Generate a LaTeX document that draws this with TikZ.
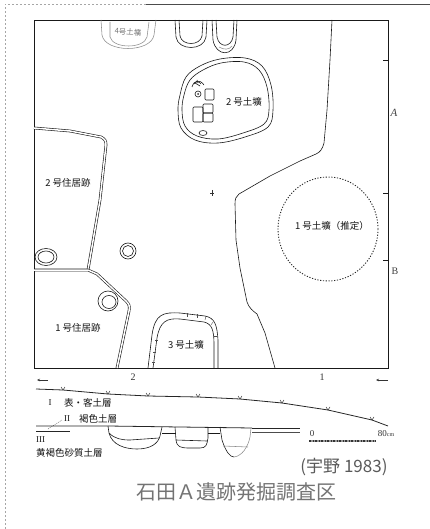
\documentclass[tikz,border=0pt]{standalone}
\usepackage{fontspec}
\newfontfamily\jp{Noto Sans CJK JP}
\newfontfamily\rmser{Liberation Serif}
\usetikzlibrary{arrows.meta,calc}
\begin{document}
\begin{tikzpicture}[x=1pt,y=-1pt,
  wall/.style={line width=0.9pt, black!90},
  thin/.style={line width=0.6pt, black!90},
  faint/.style={line width=0.55pt, black!45},
  dbl/.style={double=white, double distance=1.5pt, line width=0.6pt, draw=black!90},
  dotline/.style={line width=0.9pt, black!85, dash pattern=on 1.2pt off 1.6pt},
  lbl/.style={font=\jp\fontsize{9.5}{10}\selectfont, inner sep=0pt, text=black!92},
  slbl/.style={font=\jp\fontsize{7.5}{8}\selectfont, inner sep=0pt, text=black!55},
  rom/.style={font=\rmser\fontsize{9}{10}\selectfont, inner sep=0pt, text=black!90},
  tickv/.style={line width=0.45pt, black!80}
]
\useasboundingbox (0,0) rectangle (430,529);
% scan frame
\draw[black!35, line width=0.5pt, dash pattern=on 2pt off 2pt] (5,529) -- (5,4) -- (146,4);
\draw[black!70, line width=0.7pt] (146,4) -- (430,4);

% plan rectangle
\draw[wall] (34,20) rectangle (388,368);
\coordinate (tA1) at (383,60); \coordinate (tA2) at (388,60);
\draw[thin] (tA1) -- (tA2);
\coordinate (tB1) at (383,193); \coordinate (tB2) at (388,193);
\draw[thin] (tB1) -- (tB2);
\coordinate (tC1) at (383,260); \coordinate (tC2) at (388,260);
\draw[thin] (tC1) -- (tC2);
\node[font=\rmser\itshape\fontsize{11}{12}\selectfont, text=black!75] (A) at (394,113) {A};
\node[font=\rmser\fontsize{10}{12}\selectfont, text=black!75] (B) at (395,271) {B};

% central boundary line
\draw[thin] (332,20) -- (330,60) -- (327,110) -- (324,143) .. controls (322,150) and (320,152) .. (316,154)
  -- (300,161) -- (270,176) -- (239,194) .. controls (236,196) and (235,199) .. (235,204)
  -- (236,240) -- (240,268) -- (247,302) .. controls (249,308) and (253,311) .. (257,314)
  -- (265,333) -- (275,368);

% centre cross
\coordinate (cx) at (212,193);
\draw[line width=0.4pt, black!80] ($(cx)+(-2,0)$) -- ($(cx)+(2,0)$) ($(cx)+(0,-3)$) -- ($(cx)+(0,3)$);

% pit 4 (top left, faint)
\draw[faint] (101,20) -- (102,35) .. controls (105,53) and (151,53) .. (154,35) -- (156,20);
\draw[faint] (110,22) -- (110,37) .. controls (113,49) and (144,49) .. (147,37) -- (149,22);
\node[slbl, rotate=-4] (p4) at (128,32) {4号土壙};

% top pits
\draw[thin] (175,20) -- (176,37) .. controls (178,51) and (204,51) .. (206,37) -- (207,20);
\draw[thin] (179,20) -- (180,36) .. controls (182,46) and (200,46) .. (202,36) -- (203,20);
\draw[thin] (212,20) -- (213,40) .. controls (216,57) and (234,57) .. (236,40) -- (237,20);
\draw[thin] (216,20) -- (217,37) .. controls (219,48) and (231,48) .. (233,37) -- (234,20);
\draw[faint] (219,47) .. controls (224,50) and (229,50) .. (232,46);

% pit 2 (土壙)
\draw[thin] plot[smooth cycle, tension=0.6] coordinates {(180,95) (186,77) (200,66) (220,59) (245,58) (262,66) (271,85) (273,110) (268,127) (245,137) (218,143) (195,140) (181,128) (178,110)};
\draw[thin] plot[smooth cycle, tension=0.6] coordinates {(184,95) (190,80) (203,70) (221,63) (244,62) (259,70) (267,87) (269,110) (264,124) (243,133) (218,139) (197,136) (185,126) (182,110)};
\draw[thin] (192,87) .. controls (194,80) and (200,79) .. (204,85);
\draw[thin] (194,84) .. controls (196,81) and (199,81) .. (201,84);
\draw[thin] (197,80) -- (198,83) (195,83) -- (200,86);
\draw[thin] (198,94) circle (3);
\fill[black!80] (198,94) circle (1);
\draw[thin, rounded corners=1pt] (205,89) rectangle (214,100);
\draw[thin, rounded corners=1pt] (193,107) rectangle (203,122);
\draw[thin, rounded corners=1pt] (203,104) rectangle (213,113);
\draw[thin, rounded corners=1pt] (203,113) rectangle (213,122);
\draw[thin] (203,133) ellipse (4 and 2.5);
\node[lbl] (p2) at (244,102) {2 号土壙};

% house 2 wall
\draw[dbl] (34,128) -- (70,131) -- (101,137) .. controls (105,139) and (106,141) .. (106,145) -- (100,200) -- (88,270);
\node[lbl] (h2) at (68,183) {2 号住居跡};

% house 1 wall
\draw[dbl] (34,270) -- (88,270) -- (97,274) -- (126,301) .. controls (129,304) and (130,306) .. (129,311) -- (117,368);
\node[lbl] (h1) at (78,328) {1 号住居跡};

% small pits
\draw[thin] (128,251) circle (8);
\draw[thin] (128,251) circle (5.5);
\draw[thin] (108,301) ellipse (10 and 10);
\draw[thin] (109,302) ellipse (7 and 6.5);
\begin{scope}
\clip (34,240) rectangle (70,275);
\draw[thin] (46,257) ellipse (11 and 8.5);
\draw[thin] (46,257) ellipse (8 and 6);
\end{scope}

% pit 3
\draw[thin] (148,368) -- (152,335) .. controls (155,314) and (163,312) .. (180,313) -- (205,316) .. controls (215,318) and (217,325) .. (218,340) -- (218,368);
\draw[thin] (153,368) -- (157,338) .. controls (160,321) and (167,318) .. (180,319) -- (204,322) .. controls (212,324) and (214,330) .. (214,345) -- (214,368);
\foreach \xa/\ya/\xb/\yb in {187/313/187/317, 197/314/197/318, 206/316/205/320, 213/322/211/325, 217/336/214/336, 155/340/158/340, 153/352/156/352, 152/362/155/362}
  \draw[line width=0.4pt, black!70] (\xa,\ya) -- (\xb,\yb);
\node[lbl] (p3) at (186,345) {3 号土壙};

% pit 1 (estimated)
\draw[dotline] (328,229) ellipse (50 and 52);
\node[lbl] (p1) at (332,226) {1 号土壙（推定）};

% section markers
\node[font=\rmser\fontsize{10}{12}\selectfont, text=black!80] (n2) at (133,377) {2};
\node[font=\rmser\fontsize{10}{12}\selectfont, text=black!80] (n1) at (322,377) {1};
\coordinate (la1) at (48,380); \coordinate (la2) at (37,380);
\draw[line width=0.5pt, black!80, -{Stealth[length=3pt,width=2.5pt]}] (la1) -- (la2);
\coordinate (ra1) at (388,380); \coordinate (ra2) at (376,380);
\draw[line width=0.5pt, black!80, -{Stealth[length=3pt,width=2.5pt]}] (ra1) -- (ra2);

% surface line
\draw[line width=0.8pt, black!85] (36,389) -- (63,390) -- (108,394) -- (148,396) -- (198,397) -- (240,399) -- (282,403) -- (328,410) -- (372,420) -- (388,426);
\foreach \x/\y in {63/390,108/394,148/396,198/397,240/399,282/403,328/410,372/420}
  \draw[tickv] (\x-2,\y-3) -- (\x,\y) -- (\x+2,\y-3);

% layer labels
\node[rom] (r1) at (50,403) {I};
\node[lbl, anchor=west] (t1) at (64,403) {表・客土層};
\node[rom] (r2) at (67,419) {II};
\node[lbl, anchor=west] (t2) at (79,419) {褐色土層};
\coordinate (ld1) at (48,429); \coordinate (ld2) at (62,420);
\draw[line width=0.4pt, black!70, dash pattern=on 1pt off 1pt] (ld1) -- (ld2);
\node[rom, anchor=west] (r3) at (36,440) {III};
\node[lbl, anchor=west] (t3) at (36,453) {黄褐色砂質土層};

% section lines
\draw[line width=0.8pt, black!85] (36,426) -- (108,426) -- (252,428);
\draw[line width=0.6pt, black!85] (36,431) -- (70,431);
% pit A
\draw[thin] (108,426) -- (109,433) .. controls (112,445) and (125,449) .. (137,449) .. controls (150,449) and (158,444) .. (160,436) -- (162,427);
\draw[thin] (109,433) .. controls (115,439) and (122,440) .. (130,440) -- (159,438);
\draw[thin] (162,433) -- (175,433);
% pit B
\draw[thin] (175,427) -- (176,440) .. controls (177,447) and (180,448) .. (190,448) -- (200,448) .. controls (206,448) and (207,445) .. (208,438) -- (208,427);
\draw[thin] (176,440) -- (207,441);
\draw[thin] (208,433) -- (220,433);
% pit C
\draw[thin] (220,427) -- (222,440) .. controls (226,452) and (230,457) .. (234,457);
\draw[faint] (234,457) .. controls (242,456) and (248,447) .. (250,437) -- (251,428);
\draw[faint] (223,446) -- (248,447);
\draw[line width=0.7pt, black!85] (252,428) -- (300,428);
\draw[line width=0.5pt, black!70] (252,432) -- (300,432);

% scale
\node[font=\rmser\fontsize{9}{10}\selectfont, text=black!80] (s0) at (312,434) {0};
\node[font=\rmser\fontsize{9}{10}\selectfont, text=black!80] (s80) at (386,434) {80{\fontsize{6}{7}\selectfont cm}};
\coordinate (sb1) at (309,441); \coordinate (sb2) at (376,441);
\draw[line width=1.6pt, black!40] (sb1) -- (sb2);
\draw[line width=1.6pt, black!80, dash pattern=on 2pt off 1.5pt on 1pt off 1.5pt] (sb1) -- (sb2);

% captions
\node[font=\jp\fontsize{17}{18}\selectfont, text=black!65, inner sep=0pt] (src) at (344,467) {(宇野 1983)};
\node[font=\jp\fontsize{20}{22}\selectfont, text=black!55, inner sep=0pt] (ttl) at (236,492) {石田Ａ遺跡発掘調査区};
\end{tikzpicture}
\end{document}
